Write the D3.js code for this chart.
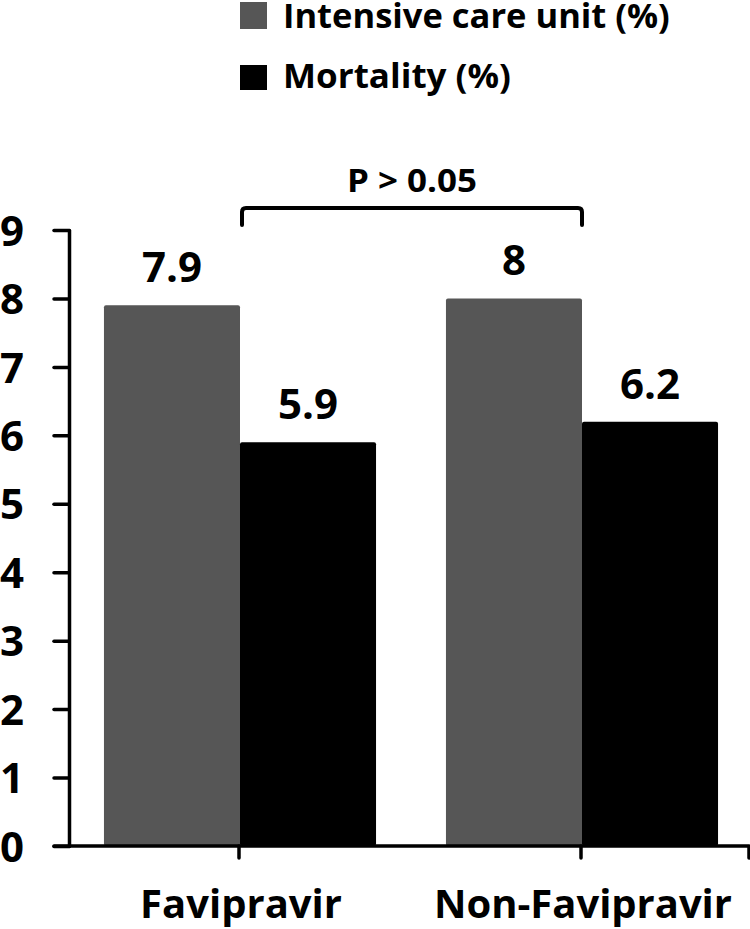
<!DOCTYPE html>
<html>
<head>
<meta charset="utf-8">
<script src="https://cdn.jsdelivr.net/npm/d3@7"></script>
<style>
  html, body { margin: 0; padding: 0; background: #fff; }
  text { font-family: "Open Sans", "DejaVu Sans", sans-serif; font-weight: 700; fill: #000; }
</style>
</head>
<body>
<svg id="chart" width="750" height="929"></svg>
<script>
// ---- data ----
const categories = ["Favipravir", "Non-Favipravir"];
const seriesNames = ["Intensive care unit (%)", "Mortality (%)"];
const icuValues = [7.9, 8];
const mortalityValues = [5.9, 6.2];
const yTicks = [0, 1, 2, 3, 4, 5, 6, 7, 8, 9];
const pLabel = "P > 0.05";

const seriesColors = ["#565656", "#000000"];
const values = [icuValues, mortalityValues];

const svg = d3.select("#chart");

// helper: place a text at (x, y) and squeeze it horizontally to a target width
function fitText(sel, x, y, target, anchor) {
  sel.each(function(d, i) {
    const t = d3.select(this);
    const w = this.getComputedTextLength();
    const tw = typeof target === "function" ? target(d, i) : target;
    const s = tw / w;
    const px = typeof x === "function" ? x(d, i) : x;
    const py = typeof y === "function" ? y(d, i) : y;
    const a = anchor || "start";
    t.attr("text-anchor", a).attr("x", 0).attr("y", 0)
     .attr("transform", `translate(${px},${py}) scale(${s},1)`);
  });
}

// ---- scales ----
const y = d3.scaleLinear().domain([0, 9]).range([846, 230]);
const x0 = d3.scaleBand().domain(categories).range([69, 753]).paddingInner(0).paddingOuter(0);
const x1 = d3.scaleBand().domain(seriesNames).range([0, x0.bandwidth()]).paddingInner(0).paddingOuter(0.257);

// ---- bars ----
const rows = [];
categories.forEach((c, ci) => {
  seriesNames.forEach((s, si) => rows.push({ c, s, si, v: values[si][ci] }));
});

svg.append("g").selectAll("rect").data(rows).join("rect")
  .attr("x", d => x0(d.c) + x1(d.s))
  .attr("y", d => y(d.v))
  .attr("width", x1.bandwidth())
  .attr("height", d => y(0) - y(d.v))
  .attr("rx", 2)
  .attr("fill", d => seriesColors[d.si]);

// value labels
svg.append("g").selectAll("text").data(rows).join("text")
  .attr("x", d => x0(d.c) + x1(d.s) + x1.bandwidth() / 2)
  .attr("y", d => y(d.v) - 23)
  .attr("text-anchor", "middle")
  .attr("font-size", 42)
  .text(d => d.v);

// ---- y axis ----
const yAxis = d3.axisLeft(y).tickValues(yTicks).tickSize(15).tickSizeOuter(0).tickPadding(30).tickFormat(d3.format("d"));
const gy = svg.append("g").attr("transform", "translate(69,0)").call(yAxis);
gy.select(".domain").attr("stroke", "#000").attr("stroke-width", 3.5).attr("stroke-linecap", "round");
gy.selectAll(".tick line").attr("stroke", "#000").attr("stroke-width", 3.5).attr("stroke-linecap", "round");
gy.selectAll(".tick text")
  .attr("font-size", 42).attr("font-family", "Open Sans").attr("font-weight", 700)
  .attr("dy", "0.36em").attr("fill", "#000");

// ---- x axis ----
const xEnd = x0.range()[1] - 4;
svg.append("path")
  .attr("d", `M54,${y(0)}H${xEnd}V${y(0) + 12}`)
  .attr("fill", "none").attr("stroke", "#000").attr("stroke-width", 3.5)
  .attr("stroke-linejoin", "round").attr("stroke-linecap", "round");
svg.append("g").selectAll("line").data(categories).join("line")
  .attr("x1", d => x0(d) + x0.bandwidth() / 2 - 1)
  .attr("x2", d => x0(d) + x0.bandwidth() / 2 - 1)
  .attr("y1", y(0)).attr("y2", y(0) + 12)
  .attr("stroke", "#000").attr("stroke-width", 3.5).attr("stroke-linecap", "round");

const catWidths = [202, 298];
svg.append("g").selectAll("text").data(categories).join("text")
  .attr("font-size", 40)
  .text(d => d)
  .call(fitText, d => x0(d) + x0.bandwidth() / 2 + 1, 918, (d, i) => catWidths[i], "middle");

// ---- significance bracket ----
const bx1 = x0(categories[0]) + x0.bandwidth() / 2 + 2;
const bx2 = x0(categories[1]) + x0.bandwidth() / 2;
svg.append("path")
  .attr("d", `M${bx1},225V212Q${bx1},208 ${bx1 + 4},208H${bx2 - 4}Q${bx2},208 ${bx2},212V225`)
  .attr("fill", "none").attr("stroke", "#000").attr("stroke-width", 4)
  .attr("stroke-linecap", "round");
svg.append("text")
  .attr("font-size", 33)
  .text(pLabel)
  .call(fitText, (bx1 + bx2) / 2, 192, 130, "middle");

// ---- legend ----
const legendWidths = [387, 228];
const lg = svg.append("g").selectAll("g").data(seriesNames).join("g")
  .attr("transform", (d, i) => `translate(240,${2 + i * 61})`);
lg.append("rect").attr("width", 27).attr("height", (d, i) => 27 - i * 2).attr("y", (d, i) => i * 2).attr("fill", (d, i) => seriesColors[i]);
lg.append("text")
  .attr("font-size", 34)
  .text(d => d)
  .call(fitText, 43, (d, i) => 26 - i, (d, i) => legendWidths[i], "start");
</script>
</body>
</html>
